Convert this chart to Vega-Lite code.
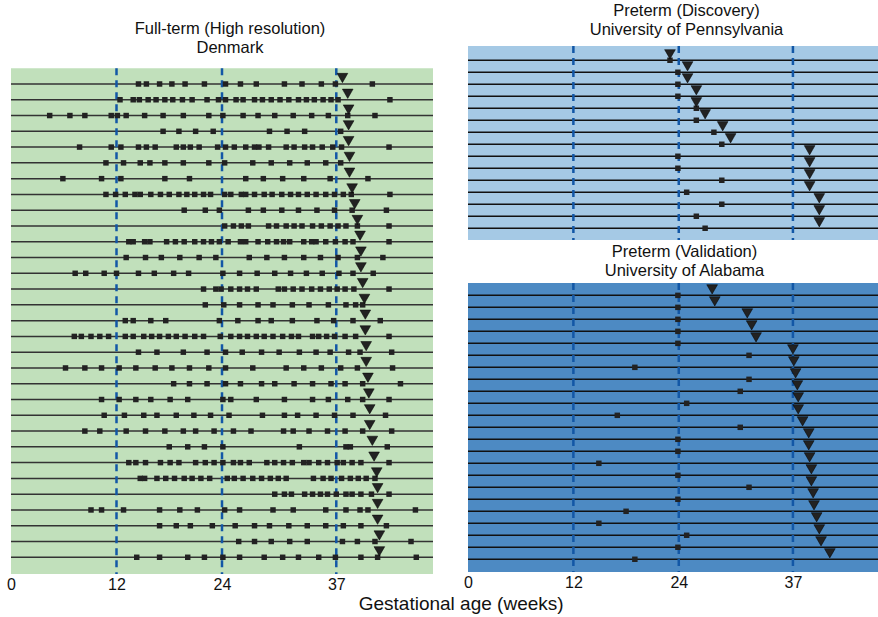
{
"$schema":"https://vega.github.io/schema/vega-lite/v6.json",
"padding":{"left":6,"right":0,"top":3,"bottom":0},
"config":{"font":"Liberation Sans","view":{"stroke":null},"title":{"fontSize":16.5,"fontWeight":"normal","font":"Liberation Sans","lineHeight":19,"color":"#111"}},
"datasets":{
"ft_s":[
{"row":0,"wk":14.5},{"row":0,"wk":15.4},{"row":0,"wk":16.9},{"row":0,"wk":18.3},{"row":0,"wk":19.8},{"row":0,"wk":22.0},{"row":0,"wk":24.4},{"row":0,"wk":26.1},{"row":0,"wk":27.9},{"row":0,"wk":31.1},{"row":0,"wk":33.1},{"row":0,"wk":35.3},{"row":0,"wk":36.9},{"row":0,"wk":41.1},
{"row":1,"wk":12.4},{"row":1,"wk":13.9},{"row":1,"wk":14.6},{"row":1,"wk":15.6},{"row":1,"wk":16.5},{"row":1,"wk":17.5},{"row":1,"wk":18.4},{"row":1,"wk":19.5},{"row":1,"wk":20.6},{"row":1,"wk":22.3},{"row":1,"wk":23.6},{"row":1,"wk":24.4},{"row":1,"wk":25.6},{"row":1,"wk":26.4},{"row":1,"wk":27.7},{"row":1,"wk":28.6},{"row":1,"wk":29.6},{"row":1,"wk":30.6},{"row":1,"wk":31.6},{"row":1,"wk":32.7},{"row":1,"wk":33.6},{"row":1,"wk":34.5},{"row":1,"wk":35.5},{"row":1,"wk":36.4},{"row":1,"wk":37.2},{"row":1,"wk":43.1},
{"row":2,"wk":4.4},{"row":2,"wk":6.7},{"row":2,"wk":8.4},{"row":2,"wk":11.4},{"row":2,"wk":12.1},{"row":2,"wk":13.1},{"row":2,"wk":15.2},{"row":2,"wk":17.3},{"row":2,"wk":19.6},{"row":2,"wk":22.5},{"row":2,"wk":24.1},{"row":2,"wk":26.4},{"row":2,"wk":28.1},{"row":2,"wk":30.0},{"row":2,"wk":32.1},{"row":2,"wk":34.2},{"row":2,"wk":36.1},{"row":2,"wk":38.3},{"row":2,"wk":41.4},
{"row":3,"wk":17.3},{"row":3,"wk":19.1},{"row":3,"wk":21.0},{"row":3,"wk":23.0},{"row":3,"wk":29.4},{"row":3,"wk":31.4},{"row":3,"wk":33.4},{"row":3,"wk":37.5},
{"row":4,"wk":7.8},{"row":4,"wk":11.4},{"row":4,"wk":12.5},{"row":4,"wk":14.5},{"row":4,"wk":15.4},{"row":4,"wk":16.4},{"row":4,"wk":18.8},{"row":4,"wk":19.6},{"row":4,"wk":20.4},{"row":4,"wk":21.4},{"row":4,"wk":23.5},{"row":4,"wk":24.4},{"row":4,"wk":25.4},{"row":4,"wk":26.7},{"row":4,"wk":27.7},{"row":4,"wk":28.2},{"row":4,"wk":29.3},{"row":4,"wk":31.3},{"row":4,"wk":32.2},{"row":4,"wk":33.4},{"row":4,"wk":34.3},{"row":4,"wk":35.4},{"row":4,"wk":36.6},{"row":4,"wk":37.6},{"row":4,"wk":43.0},
{"row":5,"wk":10.8},{"row":5,"wk":12.8},{"row":5,"wk":14.7},{"row":5,"wk":15.8},{"row":5,"wk":17.5},{"row":5,"wk":19.6},{"row":5,"wk":22.5},{"row":5,"wk":24.3},{"row":5,"wk":27.5},{"row":5,"wk":29.6},{"row":5,"wk":31.7},{"row":5,"wk":33.7},{"row":5,"wk":35.8},{"row":5,"wk":37.5},
{"row":6,"wk":5.9},{"row":6,"wk":10.3},{"row":6,"wk":12.5},{"row":6,"wk":17.5},{"row":6,"wk":20.3},{"row":6,"wk":26.7},{"row":6,"wk":28.7},{"row":6,"wk":30.9},{"row":6,"wk":33.3},{"row":6,"wk":36.3},{"row":6,"wk":40.6},
{"row":7,"wk":10.8},{"row":7,"wk":11.9},{"row":7,"wk":13.0},{"row":7,"wk":14.1},{"row":7,"wk":14.7},{"row":7,"wk":15.9},{"row":7,"wk":17.0},{"row":7,"wk":18.0},{"row":7,"wk":19.1},{"row":7,"wk":20.0},{"row":7,"wk":20.9},{"row":7,"wk":21.9},{"row":7,"wk":22.7},{"row":7,"wk":24.3},{"row":7,"wk":25.0},{"row":7,"wk":26.2},{"row":7,"wk":26.7},{"row":7,"wk":27.7},{"row":7,"wk":28.8},{"row":7,"wk":29.7},{"row":7,"wk":30.8},{"row":7,"wk":31.8},{"row":7,"wk":32.7},{"row":7,"wk":33.7},{"row":7,"wk":34.7},{"row":7,"wk":35.8},{"row":7,"wk":36.8},{"row":7,"wk":37.8},{"row":7,"wk":38.7},{"row":7,"wk":43.1},
{"row":8,"wk":19.7},{"row":8,"wk":22.1},{"row":8,"wk":23.7},{"row":8,"wk":27.0},{"row":8,"wk":28.7},{"row":8,"wk":30.8},{"row":8,"wk":32.7},{"row":8,"wk":34.8},{"row":8,"wk":36.8},{"row":8,"wk":38.8},{"row":8,"wk":42.7},
{"row":9,"wk":24.3},{"row":9,"wk":25.3},{"row":9,"wk":26.2},{"row":9,"wk":27.0},{"row":9,"wk":29.3},{"row":9,"wk":30.2},{"row":9,"wk":31.3},{"row":9,"wk":32.2},{"row":9,"wk":33.1},{"row":9,"wk":34.3},{"row":9,"wk":35.3},{"row":9,"wk":36.3},{"row":9,"wk":37.2},{"row":9,"wk":38.1},{"row":9,"wk":39.4},{"row":9,"wk":43.0},
{"row":10,"wk":13.4},{"row":10,"wk":13.9},{"row":10,"wk":15.2},{"row":10,"wk":15.8},{"row":10,"wk":17.7},{"row":10,"wk":18.7},{"row":10,"wk":19.7},{"row":10,"wk":20.9},{"row":10,"wk":21.9},{"row":10,"wk":22.8},{"row":10,"wk":23.7},{"row":10,"wk":24.7},{"row":10,"wk":26.1},{"row":10,"wk":26.7},{"row":10,"wk":28.1},{"row":10,"wk":29.2},{"row":10,"wk":30.2},{"row":10,"wk":31.0},{"row":10,"wk":31.7},{"row":10,"wk":33.3},{"row":10,"wk":34.2},{"row":10,"wk":34.7},{"row":10,"wk":35.8},{"row":10,"wk":36.9},{"row":10,"wk":38.0},{"row":10,"wk":38.9},{"row":10,"wk":43.0},
{"row":11,"wk":13.1},{"row":11,"wk":15.3},{"row":11,"wk":17.1},{"row":11,"wk":19.2},{"row":11,"wk":21.4},{"row":11,"wk":23.3},{"row":11,"wk":27.1},{"row":11,"wk":29.1},{"row":11,"wk":31.1},{"row":11,"wk":33.3},{"row":11,"wk":35.2},{"row":11,"wk":37.2},{"row":11,"wk":39.4},{"row":11,"wk":42.3},
{"row":12,"wk":7.3},{"row":12,"wk":8.5},{"row":12,"wk":10.6},{"row":12,"wk":12.0},{"row":12,"wk":14.5},{"row":12,"wk":16.3},{"row":12,"wk":18.5},{"row":12,"wk":20.2},{"row":12,"wk":24.1},{"row":12,"wk":26.0},{"row":12,"wk":28.0},{"row":12,"wk":30.0},{"row":12,"wk":31.8},{"row":12,"wk":33.6},{"row":12,"wk":35.4},{"row":12,"wk":37.3},{"row":12,"wk":38.9},{"row":12,"wk":41.2},
{"row":13,"wk":21.9},{"row":13,"wk":23.3},{"row":13,"wk":23.9},{"row":13,"wk":25.0},{"row":13,"wk":26.0},{"row":13,"wk":26.9},{"row":13,"wk":27.9},{"row":13,"wk":30.4},{"row":13,"wk":31.1},{"row":13,"wk":32.1},{"row":13,"wk":33.1},{"row":13,"wk":34.2},{"row":13,"wk":35.2},{"row":13,"wk":36.2},{"row":13,"wk":37.1},{"row":13,"wk":38.0},{"row":13,"wk":39.0},{"row":13,"wk":43.0},
{"row":14,"wk":22.1},{"row":14,"wk":24.2},{"row":14,"wk":26.0},{"row":14,"wk":28.1},{"row":14,"wk":29.8},{"row":14,"wk":32.0},{"row":14,"wk":33.9},{"row":14,"wk":36.1},{"row":14,"wk":38.1},{"row":14,"wk":39.2},{"row":14,"wk":40.0},
{"row":15,"wk":13.0},{"row":15,"wk":13.9},{"row":15,"wk":15.9},{"row":15,"wk":17.6},{"row":15,"wk":23.7},{"row":15,"wk":25.8},{"row":15,"wk":28.1},{"row":15,"wk":29.6},{"row":15,"wk":32.0},{"row":15,"wk":34.8},{"row":15,"wk":36.7},{"row":15,"wk":38.9},{"row":15,"wk":42.0},
{"row":16,"wk":7.2},{"row":16,"wk":8.0},{"row":16,"wk":9.1},{"row":16,"wk":10.1},{"row":16,"wk":11.1},{"row":16,"wk":13.0},{"row":16,"wk":13.9},{"row":16,"wk":15.1},{"row":16,"wk":16.0},{"row":16,"wk":16.9},{"row":16,"wk":17.9},{"row":16,"wk":18.8},{"row":16,"wk":19.8},{"row":16,"wk":20.9},{"row":16,"wk":21.9},{"row":16,"wk":23.8},{"row":16,"wk":25.0},{"row":16,"wk":26.0},{"row":16,"wk":26.9},{"row":16,"wk":27.9},{"row":16,"wk":28.8},{"row":16,"wk":29.8},{"row":16,"wk":30.9},{"row":16,"wk":31.9},{"row":16,"wk":32.7},{"row":16,"wk":34.3},{"row":16,"wk":35.0},{"row":16,"wk":35.9},{"row":16,"wk":36.8},{"row":16,"wk":38.0},{"row":16,"wk":39.2},{"row":16,"wk":43.0},
{"row":17,"wk":14.5},{"row":17,"wk":16.6},{"row":17,"wk":19.6},{"row":17,"wk":22.3},{"row":17,"wk":24.4},{"row":17,"wk":26.3},{"row":17,"wk":28.5},{"row":17,"wk":30.5},{"row":17,"wk":32.8},{"row":17,"wk":34.7},{"row":17,"wk":36.3},{"row":17,"wk":38.4},{"row":17,"wk":39.7},{"row":17,"wk":43.3},
{"row":18,"wk":6.2},{"row":18,"wk":8.4},{"row":18,"wk":10.3},{"row":18,"wk":12.3},{"row":18,"wk":14.2},{"row":18,"wk":16.4},{"row":18,"wk":18.3},{"row":18,"wk":20.3},{"row":18,"wk":22.5},{"row":18,"wk":24.4},{"row":18,"wk":27.5},{"row":18,"wk":31.3},{"row":18,"wk":33.3},{"row":18,"wk":35.3},{"row":18,"wk":37.5},{"row":18,"wk":39.4},{"row":18,"wk":43.4},
{"row":19,"wk":18.5},{"row":19,"wk":20.3},{"row":19,"wk":22.3},{"row":19,"wk":24.4},{"row":19,"wk":26.1},{"row":19,"wk":28.5},{"row":19,"wk":30.0},{"row":19,"wk":32.2},{"row":19,"wk":34.3},{"row":19,"wk":36.4},{"row":19,"wk":38.0},{"row":19,"wk":40.0},{"row":19,"wk":44.3},
{"row":20,"wk":10.3},{"row":20,"wk":12.3},{"row":20,"wk":14.2},{"row":20,"wk":15.9},{"row":20,"wk":18.1},{"row":20,"wk":20.1},{"row":20,"wk":24.1},{"row":20,"wk":25.0},{"row":20,"wk":27.9},{"row":20,"wk":31.1},{"row":20,"wk":34.3},{"row":20,"wk":36.1},{"row":20,"wk":38.3},{"row":20,"wk":40.0},{"row":20,"wk":43.0},
{"row":21,"wk":10.6},{"row":21,"wk":12.9},{"row":21,"wk":15.1},{"row":21,"wk":16.6},{"row":21,"wk":18.8},{"row":21,"wk":20.8},{"row":21,"wk":22.7},{"row":21,"wk":24.8},{"row":21,"wk":28.6},{"row":21,"wk":31.1},{"row":21,"wk":32.6},{"row":21,"wk":34.7},{"row":21,"wk":36.8},{"row":21,"wk":38.9},{"row":21,"wk":42.6},
{"row":22,"wk":8.4},{"row":22,"wk":10.1},{"row":22,"wk":13.1},{"row":22,"wk":15.3},{"row":22,"wk":17.5},{"row":22,"wk":19.6},{"row":22,"wk":21.0},{"row":22,"wk":23.1},{"row":22,"wk":25.3},{"row":22,"wk":27.3},{"row":22,"wk":31.0},{"row":22,"wk":32.1},{"row":22,"wk":33.9},{"row":22,"wk":36.0},{"row":22,"wk":38.0},{"row":22,"wk":40.0},{"row":22,"wk":43.3},
{"row":23,"wk":18.0},{"row":23,"wk":20.1},{"row":23,"wk":22.0},{"row":23,"wk":24.1},{"row":23,"wk":32.8},{"row":23,"wk":38.1},{"row":23,"wk":38.6},{"row":23,"wk":42.8},
{"row":24,"wk":13.4},{"row":24,"wk":14.2},{"row":24,"wk":15.3},{"row":24,"wk":17.0},{"row":24,"wk":18.1},{"row":24,"wk":19.1},{"row":24,"wk":21.0},{"row":24,"wk":22.1},{"row":24,"wk":23.1},{"row":24,"wk":24.1},{"row":24,"wk":25.3},{"row":24,"wk":26.1},{"row":24,"wk":27.1},{"row":24,"wk":29.1},{"row":24,"wk":30.0},{"row":24,"wk":31.0},{"row":24,"wk":32.0},{"row":24,"wk":33.3},{"row":24,"wk":33.9},{"row":24,"wk":35.0},{"row":24,"wk":36.0},{"row":24,"wk":37.1},{"row":24,"wk":37.8},{"row":24,"wk":38.8},{"row":24,"wk":39.8},{"row":24,"wk":43.0},
{"row":25,"wk":14.7},{"row":25,"wk":15.2},{"row":25,"wk":16.6},{"row":25,"wk":17.6},{"row":25,"wk":18.6},{"row":25,"wk":19.7},{"row":25,"wk":20.6},{"row":25,"wk":21.6},{"row":25,"wk":22.6},{"row":25,"wk":24.6},{"row":25,"wk":25.4},{"row":25,"wk":26.4},{"row":25,"wk":27.5},{"row":25,"wk":28.5},{"row":25,"wk":29.5},{"row":25,"wk":30.4},{"row":25,"wk":31.3},{"row":25,"wk":34.4},{"row":25,"wk":35.5},{"row":25,"wk":36.4},{"row":25,"wk":37.6},{"row":25,"wk":38.6},{"row":25,"wk":39.5},{"row":25,"wk":40.4},{"row":25,"wk":41.4},
{"row":26,"wk":30.0},{"row":26,"wk":31.1},{"row":26,"wk":31.9},{"row":26,"wk":33.4},{"row":26,"wk":34.3},{"row":26,"wk":35.2},{"row":26,"wk":36.0},{"row":26,"wk":37.0},{"row":26,"wk":38.1},{"row":26,"wk":38.8},{"row":26,"wk":39.8},{"row":26,"wk":41.0},{"row":26,"wk":43.0},
{"row":27,"wk":9.1},{"row":27,"wk":10.3},{"row":27,"wk":12.8},{"row":27,"wk":16.9},{"row":27,"wk":19.2},{"row":27,"wk":21.2},{"row":27,"wk":24.3},{"row":27,"wk":26.0},{"row":27,"wk":29.8},{"row":27,"wk":32.1},{"row":27,"wk":35.8},{"row":27,"wk":38.1},{"row":27,"wk":39.7},{"row":27,"wk":40.6},{"row":27,"wk":46.0},
{"row":28,"wk":16.9},{"row":28,"wk":18.8},{"row":28,"wk":20.4},{"row":28,"wk":22.9},{"row":28,"wk":25.5},{"row":28,"wk":27.7},{"row":28,"wk":29.4},{"row":28,"wk":31.6},{"row":28,"wk":33.7},{"row":28,"wk":35.8},{"row":28,"wk":37.8},{"row":28,"wk":39.8},{"row":28,"wk":42.7},
{"row":29,"wk":25.9},{"row":29,"wk":27.7},{"row":29,"wk":29.6},{"row":29,"wk":31.7},{"row":29,"wk":33.7},{"row":29,"wk":37.7},{"row":29,"wk":39.4},{"row":29,"wk":41.4},{"row":29,"wk":45.5},
{"row":30,"wk":14.3},{"row":30,"wk":16.9},{"row":30,"wk":20.1},{"row":30,"wk":22.0},{"row":30,"wk":24.1},{"row":30,"wk":26.0},{"row":30,"wk":28.8},{"row":30,"wk":30.9},{"row":30,"wk":32.7},{"row":30,"wk":35.0},{"row":30,"wk":36.9},{"row":30,"wk":39.8},{"row":30,"wk":41.7},{"row":30,"wk":46.1}
],
"ft_d":[
{"row":0,"wk":37.7},{"row":1,"wk":38.3},{"row":2,"wk":38.4},{"row":3,"wk":38.4},{"row":4,"wk":38.4},{"row":5,"wk":38.5},{"row":6,"wk":38.5},{"row":7,"wk":38.8},{"row":8,"wk":39.1},{"row":9,"wk":39.4},{"row":10,"wk":39.7},{"row":11,"wk":39.8},{"row":12,"wk":39.8},{"row":13,"wk":40.0},{"row":14,"wk":40.2},{"row":15,"wk":40.3},{"row":16,"wk":40.3},{"row":17,"wk":40.4},{"row":18,"wk":40.4},{"row":19,"wk":40.6},{"row":20,"wk":40.7},{"row":21,"wk":40.8},{"row":22,"wk":40.8},{"row":23,"wk":41.1},{"row":24,"wk":41.3},{"row":25,"wk":41.6},{"row":26,"wk":41.7},{"row":27,"wk":41.7},{"row":28,"wk":41.7},{"row":29,"wk":41.9},{"row":30,"wk":41.9}
],
"pd_s":[
{"row":0,"wk":23.0},{"row":1,"wk":23.9},{"row":2,"wk":23.9},{"row":3,"wk":23.9},{"row":4,"wk":26.0},{"row":5,"wk":26.0},{"row":6,"wk":28.0},{"row":7,"wk":28.9},{"row":8,"wk":23.9},{"row":9,"wk":23.9},{"row":10,"wk":28.9},{"row":11,"wk":24.9},{"row":12,"wk":28.9},{"row":13,"wk":26.0},{"row":14,"wk":27.0}
],
"pd_d":[
{"row":0,"wk":23.0},{"row":1,"wk":25.0},{"row":2,"wk":25.0},{"row":3,"wk":26.0},{"row":4,"wk":26.0},{"row":5,"wk":27.0},{"row":6,"wk":29.0},{"row":7,"wk":29.9},{"row":8,"wk":38.9},{"row":9,"wk":38.9},{"row":10,"wk":38.9},{"row":11,"wk":38.9},{"row":12,"wk":40.0},{"row":13,"wk":40.0},{"row":14,"wk":40.0}
],
"pv_s":[
{"row":0,"wk":23.9},{"row":1,"wk":23.9},{"row":2,"wk":23.9},{"row":3,"wk":23.9},{"row":4,"wk":23.9},{"row":5,"wk":32.0},{"row":6,"wk":19.0},{"row":7,"wk":32.0},{"row":8,"wk":31.0},{"row":9,"wk":24.9},{"row":10,"wk":17.0},{"row":11,"wk":31.0},{"row":12,"wk":23.9},{"row":13,"wk":23.9},{"row":14,"wk":14.9},{"row":15,"wk":23.9},{"row":16,"wk":32.0},{"row":17,"wk":23.9},{"row":18,"wk":18.0},{"row":19,"wk":14.9},{"row":20,"wk":24.9},{"row":21,"wk":23.9},{"row":22,"wk":19.0}
],
"pv_d":[
{"row":0,"wk":27.8},{"row":1,"wk":28.1},{"row":2,"wk":31.8},{"row":3,"wk":32.3},{"row":4,"wk":32.8},{"row":5,"wk":37.0},{"row":6,"wk":37.1},{"row":7,"wk":37.3},{"row":8,"wk":37.5},{"row":9,"wk":37.6},{"row":10,"wk":37.6},{"row":11,"wk":38.1},{"row":12,"wk":38.8},{"row":13,"wk":38.8},{"row":14,"wk":38.9},{"row":15,"wk":39.1},{"row":16,"wk":39.1},{"row":17,"wk":39.3},{"row":18,"wk":39.4},{"row":19,"wk":39.7},{"row":20,"wk":40.0},{"row":21,"wk":40.2},{"row":22,"wk":41.2}
],
"refs":[{"wk":12},{"wk":24},{"wk":37}],
"refs_ft":[{"wk":12,"r0":-1,"r1":31.06},{"wk":24,"r0":-1,"r1":31.06},{"wk":37,"r0":-1,"r1":31.06}],
"panel":[{"x0":0,"x1":48,"y0":-1,"y1":31.06}]
},
"title":{"text":"Gestational age (weeks)","orient":"bottom","anchor":"middle","fontSize":19,"dx":18,"offset":3},
"spacing":29,
"hconcat":[
{
"width":422,"height":528,
"title":{"text":["Full-term (High resolution)","Denmark"],"offset":-10,"dx":8},
"layer":[
{"data":{"name":"panel"},"mark":{"type":"rect","color":"#c1e0bb"},
 "encoding":{"x":{"field":"x0","type":"quantitative","scale":{"domain":[0,48],"nice":false,"zero":false},"axis":{"values":[0,12,24,37],"domain":false,"ticks":false,"grid":false,"labelFlush":false,"labelFontSize":16,"labelPadding":2,"labelColor":"#111","title":null}},"x2":{"field":"x1"},
 "y":{"field":"y0","type":"quantitative","scale":{"domain":[-2.408,31.06],"reverse":true,"nice":false,"zero":false},"axis":null},"y2":{"field":"y1"}}},
{"data":{"name":"ft_d"},"mark":{"type":"rule","color":"#333","strokeWidth":1.5},
 "encoding":{"y":{"field":"row","type":"quantitative"}}},
{"data":{"name":"refs_ft"},"mark":{"type":"rule","color":"#1257a6","strokeWidth":2.5,"strokeDash":[7,5]},
 "encoding":{"x":{"field":"wk","type":"quantitative"},"y":{"field":"r0","type":"quantitative"},"y2":{"field":"r1"}}},
{"data":{"name":"ft_s"},"mark":{"type":"point","shape":"square","filled":true,"size":30,"color":"#222","opacity":1},
 "encoding":{"x":{"field":"wk","type":"quantitative"},"y":{"field":"row","type":"quantitative"}}},
{"data":{"name":"ft_d"},"mark":{"type":"point","shape":"triangle-down","filled":true,"size":115,"color":"#222","stroke":"#000","strokeWidth":0.5,"opacity":1,"yOffset":-6},
 "encoding":{"x":{"field":"wk","type":"quantitative"},"y":{"field":"row","type":"quantitative"}}}
]
},
{
"spacing":2,
"vconcat":[
{
"width":411,"height":194,
"title":{"text":["Preterm (Discovery)","University of Pennsylvania"],"offset":6,"dx":13},
"view":{"fill":"#a5c9e5","stroke":null},
"layer":[
{"data":{"name":"pd_d"},"mark":{"type":"rule","color":"#111","strokeWidth":1.5},
 "encoding":{"y":{"field":"row","type":"quantitative","scale":{"domain":[-1.19,14.98],"reverse":true,"nice":false,"zero":false},"axis":null}}},
{"data":{"name":"refs"},"mark":{"type":"rule","color":"#1257a6","strokeWidth":2.5,"strokeDash":[7,5]},
 "encoding":{"x":{"field":"wk","type":"quantitative","scale":{"domain":[0,46.8],"nice":false,"zero":false},"axis":null}}},
{"data":{"name":"pd_s"},"mark":{"type":"point","shape":"square","filled":true,"size":30,"color":"#222","opacity":1},
 "encoding":{"x":{"field":"wk","type":"quantitative"},"y":{"field":"row","type":"quantitative"}}},
{"data":{"name":"pd_d"},"mark":{"type":"point","shape":"triangle-down","filled":true,"size":115,"color":"#222","stroke":"#000","strokeWidth":0.5,"opacity":1,"yOffset":-6},
 "encoding":{"x":{"field":"wk","type":"quantitative"},"y":{"field":"row","type":"quantitative"}}}
]
},
{
"width":411,"height":289,
"title":{"text":["Preterm (Validation)","University of Alabama"],"offset":2,"dx":11},
"view":{"fill":"#4d8ac3","stroke":null},
"layer":[
{"data":{"name":"pv_d"},"mark":{"type":"rule","color":"#111","strokeWidth":1.5},
 "encoding":{"y":{"field":"row","type":"quantitative","scale":{"domain":[-1.03,23.06],"reverse":true,"nice":false,"zero":false},"axis":null}}},
{"data":{"name":"refs"},"mark":{"type":"rule","color":"#1257a6","strokeWidth":2.5,"strokeDash":[7,5]},
 "encoding":{"x":{"field":"wk","type":"quantitative","scale":{"domain":[0,46.8],"nice":false,"zero":false},"axis":{"values":[0,12,24,37],"domain":false,"ticks":false,"grid":false,"labelFlush":false,"labelFontSize":16,"labelPadding":2,"labelColor":"#111","title":null}}}},
{"data":{"name":"pv_s"},"mark":{"type":"point","shape":"square","filled":true,"size":30,"color":"#222","opacity":1},
 "encoding":{"x":{"field":"wk","type":"quantitative"},"y":{"field":"row","type":"quantitative"}}},
{"data":{"name":"pv_d"},"mark":{"type":"point","shape":"triangle-down","filled":true,"size":115,"color":"#222","stroke":"#000","strokeWidth":0.5,"opacity":1,"yOffset":-6},
 "encoding":{"x":{"field":"wk","type":"quantitative"},"y":{"field":"row","type":"quantitative"}}}
]
}
]
}
]
}
